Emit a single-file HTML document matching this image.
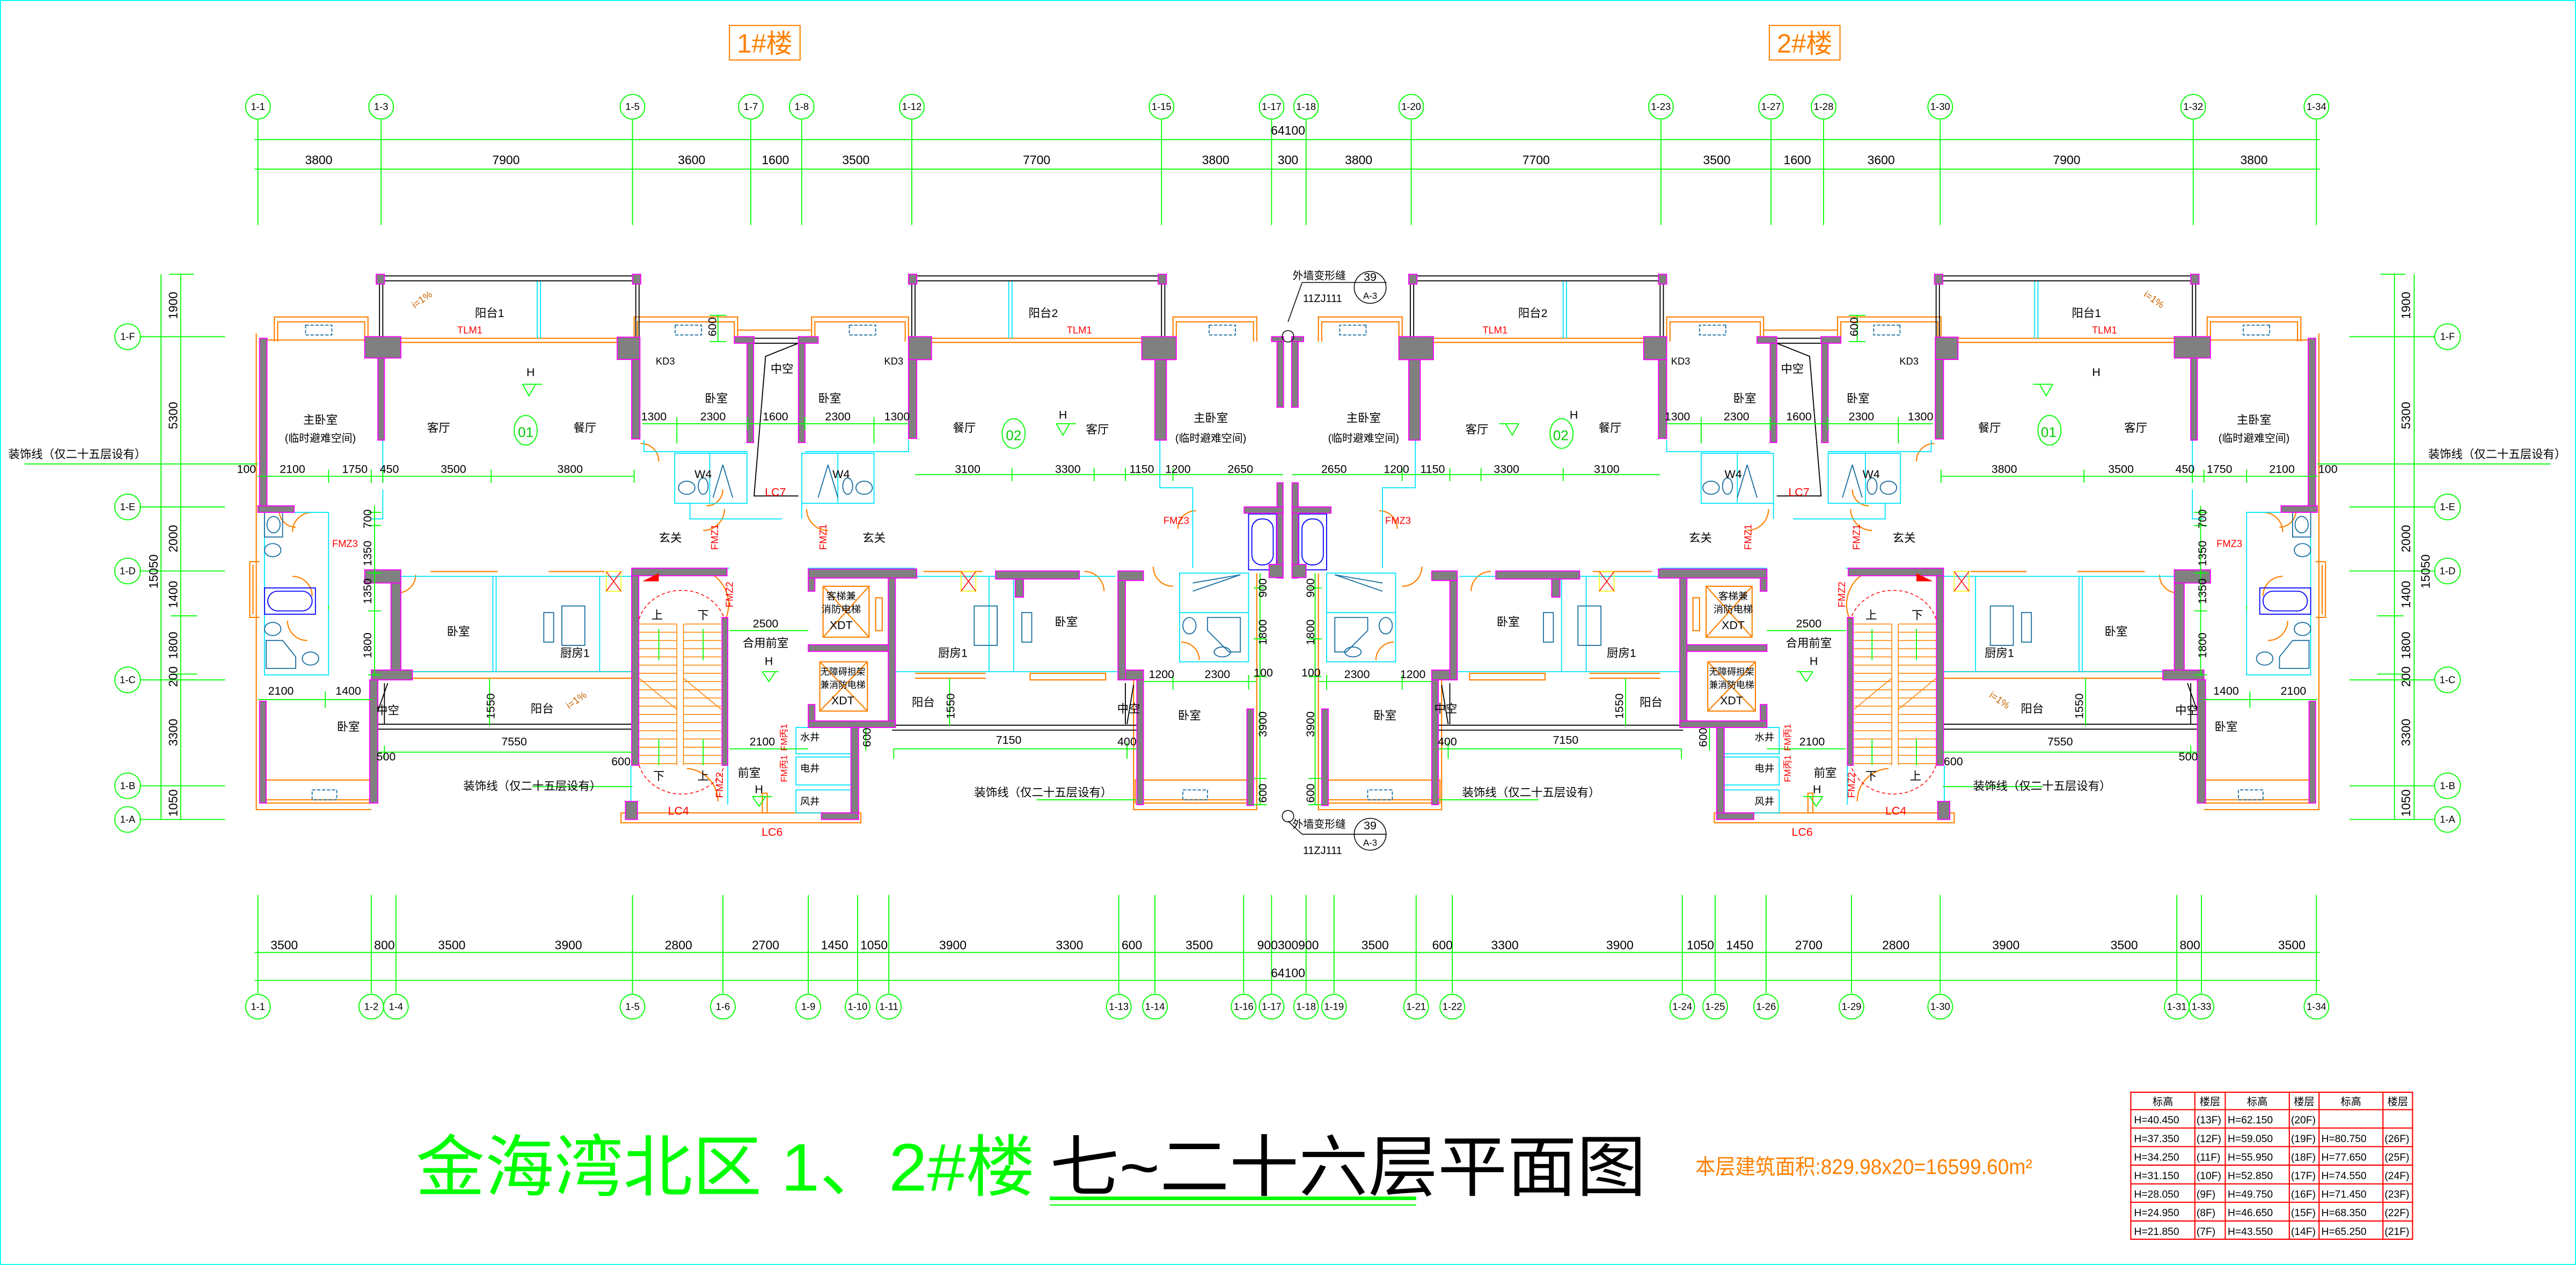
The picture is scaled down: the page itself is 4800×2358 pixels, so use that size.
<!DOCTYPE html>
<html><head><meta charset="utf-8"><style>
html,body{margin:0;padding:0;background:#fff;}
svg{display:block;}
text{font-family:"Liberation Sans","Noto Sans CJK SC",sans-serif;}
</style></head><body>
<svg xmlns="http://www.w3.org/2000/svg" xmlns:xlink="http://www.w3.org/1999/xlink" width="4800" height="2358" viewBox="0 0 1568 770.3" preserveAspectRatio="none">
<rect x="0" y="0" width="1568" height="770.3" fill="#fff"/>
<rect x="0.3" y="0.3" width="1567.4" height="769.7" fill="none" stroke="#00ffff" stroke-width="0.6"/>

<defs>
<g id="half">
 <!-- orange outlines -->
 <g fill="none" stroke="#ff8000" stroke-width="0.7">
  <path d="M156,203 V493 H226"/>
  <path d="M152,342 H158 M152,342 V376 H158 M154,344 V374"/>
  <rect x="161" y="475" width="65" height="14"/><line x1="161" y1="487" x2="226" y2="487"/>
  <rect x="691" y="475" width="69" height="14"/><line x1="691" y1="487" x2="760" y2="487"/>
  <path d="M690,414 V493 H765 V349"/>
  <path d="M167,208 V193 H224 V208 M169,208 V196 H222 V208"/>
  <path d="M386,208 V193 H449 V208 M388,208 V196 H447 V208"/>
  <path d="M494,208 V193 H553 V208 M496,208 V196 H551 V208"/>
  <path d="M714,208 V193 H765 V208 M716,208 V196 H763 V208"/>
  <path d="M449,201 H494"/>
  <line x1="234" y1="206" x2="385" y2="206"/><line x1="234" y1="208.5" x2="385" y2="208.5"/>
  <line x1="558" y1="206" x2="702" y2="206"/><line x1="558" y1="208.5" x2="702" y2="208.5"/>
  <line x1="162" y1="207" x2="222" y2="207"/>
  <rect x="378" y="495" width="146" height="6"/>
  <line x1="251" y1="409" x2="385" y2="409"/><line x1="251" y1="413" x2="385" y2="413"/>
  <line x1="557" y1="410" x2="600" y2="410"/><line x1="557" y1="413" x2="600" y2="413"/>
  <rect x="627" y="410" width="46" height="4"/>
  <line x1="262" y1="348" x2="303" y2="348"/><line x1="334" y1="348" x2="368" y2="348"/>
  <line x1="562" y1="348" x2="598" y2="348"/>
  <!-- stairs treads -->
  <g stroke-width="0.5">
   <path d="M389,380 H412 M389,385 H412 M389,390 H412 M389,395 H412 M389,400 H412 M389,405 H412 M389,410 H412 M389,415 H412 M389,420 H412 M389,425 H412 M389,430 H412 M389,435 H412 M389,440 H412 M389,445 H412 M389,450 H412 M389,455 H412 M389,460 H412 M389,465 H412"/>
   <path d="M416,380 H439 M416,385 H439 M416,390 H439 M416,395 H439 M416,400 H439 M416,405 H439 M416,410 H439 M416,415 H439 M416,420 H439 M416,425 H439 M416,430 H439 M416,435 H439 M416,440 H439 M416,445 H439 M416,450 H439 M416,455 H439 M416,460 H439 M416,465 H439"/>
   <path d="M412,380 V466 M416,380 V466 M389,413 L412,432 M416,413 L439,432"/>
  </g>
  <rect x="501" y="357" width="28" height="31"/><path d="M501,357 L529,388 M529,357 L501,388"/>
  <rect x="499" y="403" width="29" height="30"/><path d="M499,403 L528,433 M528,403 L499,433"/>
  <rect x="533" y="364" width="4" height="20"/>
  <rect x="464" y="483" width="3" height="12"/>
  <!-- door arcs -->
  <path d="M170,311 A10,10 0 0 0 180,321"/>
  <path d="M190,312 A12,12 0 0 0 178,324"/>
  <path d="M178,351 A12,12 0 0 1 190,363"/>
  <path d="M175,378 A12,12 0 0 0 187,390"/>
  <path d="M253,350 A11,11 0 0 1 242,361"/>
  <path d="M390,270 A11,11 0 0 1 401,281"/>
  <path d="M440,298 A10,10 0 0 1 430,308"/>
  <path d="M441,310 A13,13 0 0 1 428,323"/>
  <path d="M491,310 A13,13 0 0 0 504,323"/>
  <path d="M660,348 A12,12 0 0 1 672,360"/>
  <path d="M702,345 A12,12 0 0 0 714,357"/>
  <path d="M719,391 A11,11 0 0 1 730,402"/>
  <path d="M728,311 A11,11 0 0 0 717,322"/>
  <path d="M434,350 A22,22 0 0 1 442,376"/>
  <path d="M437,488 A20,20 0 0 0 418,468"/>
 </g>
 <!-- cyan thin -->
 <g fill="none" stroke="#00e5ff" stroke-width="0.6">
  <line x1="327" y1="171" x2="327" y2="206"/><line x1="329" y1="171" x2="329" y2="206"/>
  <line x1="614" y1="171" x2="614" y2="206"/><line x1="616" y1="171" x2="616" y2="206"/>
  <rect x="161" y="312" width="39" height="99"/>
  <rect x="410.7" y="276" width="44" height="30.5"/><line x1="432" y1="276" x2="432" y2="306"/>
  <rect x="488" y="276" width="44" height="30.5"/><line x1="510" y1="276" x2="510" y2="306"/>
  <path d="M392,268 V275 H455 M490,275 H553 V268"/>
  <path d="M420,306 V316 H476 M488,306 V316"/>
  <path d="M385,351 V346 H444 M492,346 H557"/>
  <path d="M233,268 V294 M233,298 V316 H226"/>
  <path d="M706,268 V297 H726 V346"/>
  <rect x="718" y="349" width="42" height="54"/><line x1="718" y1="373" x2="760" y2="373"/>
  <path d="M244,351 H385 M557,351 H679"/>
  <path d="M251,409 H385 M545,409 H680"/>
  <line x1="300" y1="351" x2="300" y2="409"/><line x1="302" y1="351" x2="302" y2="409"/>
  <line x1="365" y1="351" x2="365" y2="409"/>
  <line x1="602" y1="351" x2="602" y2="409"/><line x1="617" y1="351" x2="617" y2="409"/>
  <rect x="484.5" y="443" width="33.5" height="16"/><rect x="484.5" y="461" width="33.5" height="17"/><rect x="484.5" y="481" width="33.5" height="14"/>
  <line x1="384" y1="466" x2="384" y2="490"/><line x1="443" y1="466" x2="443" y2="490"/>
  <rect x="342" y="369" width="14" height="24" stroke="#1a6fa0"/>
  <rect x="593" y="369" width="14" height="24" stroke="#1a6fa0"/>
  <rect x="331" y="373" width="6" height="18" stroke="#1a6fa0"/>
  <rect x="622" y="373" width="6" height="18" stroke="#1a6fa0"/>
 </g>
 <!-- blue fixtures -->
 <g fill="none" stroke="#1a6fa0" stroke-width="0.6">
  <rect x="161" y="312" width="11" height="15"/><ellipse cx="166.5" cy="319.5" rx="4" ry="5"/>
  <ellipse cx="166" cy="335" rx="5" ry="4"/><ellipse cx="166" cy="383" rx="5" ry="4"/>
  <path d="M162,390 H172 L180,400 V407 H162 Z"/><ellipse cx="189" cy="401" rx="5" ry="4"/>
  <ellipse cx="418" cy="297" rx="5" ry="4"/><ellipse cx="428" cy="296" rx="3" ry="5"/>
  <path d="M440,283 L434,303 M440,283 L446,303"/>
  <ellipse cx="526" cy="297" rx="5" ry="4"/><ellipse cx="516" cy="296" rx="3" ry="5"/>
  <path d="M504,283 L498,303 M504,283 L510,303"/>
  <path d="M726,355 L755,350 M726,360 L755,350"/><ellipse cx="724" cy="381" rx="4" ry="5"/>
  <path d="M735,376 H755 V397 H748 L735,384 Z"/><ellipse cx="744" cy="397" rx="5" ry="3"/>
 </g>
 <g fill="none" stroke="#0000ff" stroke-width="0.6">
  <rect x="161" y="358" width="31" height="16"/><rect x="163" y="360" width="27" height="12" rx="6"/>
  <rect x="760" y="313" width="17" height="34"/><rect x="762" y="316" width="13" height="28" rx="6"/>
 </g>
 <g fill="none" stroke="#1a6fa0" stroke-width="0.6" stroke-dasharray="2,1">
  <rect x="186" y="198" width="16" height="6"/><rect x="411" y="198" width="16" height="6"/>
  <rect x="517" y="198" width="16" height="6"/><rect x="736" y="198" width="16" height="6"/>
  <rect x="190" y="481" width="15" height="6"/><rect x="720" y="481" width="15" height="6"/>
 </g>
 <!-- black lines (balcony rails) -->
 <g fill="none" stroke="#000" stroke-width="0.6">
  <path d="M234,168 H385 M234,171 H385 M231,170 V205 M233,170 V205 M387,170 V205 M389,170 V205"/>
  <path d="M558,168 H705 M558,171 H705 M555,170 V205 M557,170 V205 M707,170 V205 M709,170 V205"/>
  <path d="M230,441 H385 M230,444 H385 M543,441.6 H692 M543,444.6 H692"/>
  <path d="M459,206 H486 M459,209 H486 M486,209 L466,217 L459,302 H486"/>
  <path d="M234,416 V441 M236,416 L230,433 M685,416 V441 M690,417 L686,441"/>
 </g>
 <!-- walls -->
 <g fill="#808080" stroke="#ff00ff" stroke-width="0.6">
  <rect x="158" y="206" width="4.5" height="102"/>
  <rect x="157" y="308" width="22" height="4"/>
  <rect x="158" y="427" width="4" height="62"/>
  <rect x="222" y="205" width="22" height="13"/><rect x="230" y="218" width="4" height="50"/>
  <rect x="229" y="167" width="5" height="6"/><rect x="385" y="167" width="5" height="6"/>
  <rect x="553" y="167" width="5" height="6"/><rect x="705" y="167" width="5" height="6"/>
  <rect x="375.7" y="205.3" width="13.8" height="13.6"/><rect x="384.5" y="218.9" width="5" height="48.4"/>
  <rect x="447" y="205" width="12" height="4"/><rect x="454.7" y="209" width="4" height="60.5"/>
  <rect x="486" y="205" width="12" height="4"/><rect x="486" y="209" width="4" height="60.5"/>
  <rect x="553" y="205" width="14" height="14"/><rect x="553" y="219" width="5" height="48"/>
  <rect x="695" y="205" width="21" height="14"/><rect x="703" y="219" width="7" height="49"/>
  <rect x="777.3" y="206" width="4" height="42"/><rect x="774" y="205" width="7.3" height="3"/>
  <rect x="777.3" y="294" width="3.7" height="58"/><rect x="757.3" y="308.7" width="23.7" height="3.8"/>
  <rect x="772.5" y="343.7" width="8.5" height="8"/>
  <rect x="222" y="347" width="22" height="8"/><rect x="238" y="355" width="6" height="56"/>
  <rect x="226" y="408" width="25" height="6"/><rect x="225" y="414" width="5" height="75"/>
  <rect x="384.5" y="346" width="58" height="4.6"/><rect x="384.5" y="350.6" width="4.3" height="115.4"/>
  <rect x="439.5" y="376" width="3.5" height="90"/>
  <rect x="380.7" y="488" width="7.3" height="11"/>
  <rect x="492" y="346.5" width="66" height="5.5"/><rect x="492" y="352" width="4" height="8"/>
  <rect x="540.7" y="352" width="4.3" height="91"/><rect x="492" y="392.6" width="48.7" height="4.1"/>
  <rect x="492" y="429" width="4" height="10"/><rect x="492" y="439" width="53" height="4"/>
  <rect x="518" y="443" width="4.6" height="56"/><rect x="500" y="495" width="22.6" height="4"/>
  <rect x="606" y="347.7" width="51" height="4.9"/><rect x="618" y="352.6" width="5" height="11"/>
  <rect x="680.5" y="347.7" width="15.5" height="5.8"/><rect x="680.5" y="353.5" width="4.5" height="60.5"/>
  <rect x="685" y="408" width="11" height="6"/><rect x="692" y="414" width="4" height="76"/>
  <rect x="759" y="431.7" width="4" height="58.8"/>
 </g>
 <!-- red stair door mark -->
 <path d="M391,354 L401,349 V354 Z" fill="#f00"/>
 <g fill="none" stroke="#f00" stroke-width="0.5" stroke-dasharray="2,1.5">
  <path d="M389,377 A27,24 0 0 1 441,377"/><path d="M389,466 A27,24 0 0 0 441,466"/>
 </g>
 <g stroke="#f00" stroke-width="0.5" fill="none">
  <rect x="369" y="348" width="9" height="12" stroke="#ff0"/><path d="M369,348 L378,360 M378,348 L369,360"/>
  <rect x="585" y="348" width="9" height="12" stroke="#ff0"/><path d="M585,348 L594,360 M594,348 L585,360"/>
 </g>
 <!-- green internal dims -->
 <g stroke="#00ff00" stroke-width="0.6" fill="none">
  <path d="M15,282.5 H157"/>
  <path d="M157,290 H386 M200,286 V294 M226,286 V294 M233,286 V294 M299,286 V294 M386,286 V294"/>
  <path d="M557,289 H781 M616,285 V293 M666,285 V293 M685,285 V293 M714,285 V293"/>
  <path d="M391,258 H553 M412,254 V270 M455,254 V262 M490,254 V262 M532,254 V270"/>
  <path d="M444,384 H492 M444,456 H492"/>
  <path d="M157,426 H226 M198,421 V431"/>
  <path d="M230,458 H385 M234,454 V462"/>
  <path d="M544,456 H692 M686,452 V462"/>
  <path d="M696,415 H765 M714,411 V420 M760,411 V420"/>
  <path d="M228,308 V411 M224,312 H232 M224,320 H232 M224,349 H232 M224,372 H232 M224,411 H232"/>
  <path d="M298,413 V442"/><path d="M578,413 V442"/>
  <path d="M767,349 V490 M763,358 H771 M763,389 H771 M763,412 H771 M763,474 H771 M763,490 H771"/>
  <path d="M437,192 V208 M432,192 H442 M432,208 H442"/>
  <path d="M388,491 H388 M200,369 V371"/>
  <path d="M401,383 V402 M428,383 V402 M401,450 V466 M428,450 V466"/>
  <path d="M324,479 H385 M631,487 H692"/>
  <path d="M527,443 V457 M544,456 V462"/>
  <path d="M318,234 H330 M318,234 L322,241 L326,234"/>
  <path d="M464,409 H474 M464,409 L468,415 L472,409"/>
  <path d="M458,485 H470 M458,485 L462,491 L466,485"/>
  <path d="M643,258 H655 M643,258 L647,265 L651,258"/>
 </g>
 <ellipse cx="320" cy="262" rx="7" ry="9" fill="none" stroke="#00ff00" stroke-width="0.6"/>
 <ellipse cx="617" cy="264" rx="7" ry="9" fill="none" stroke="#00ff00" stroke-width="0.6"/>
</g>
</defs>

<use xlink:href="#half"/>
<use xlink:href="#half" transform="translate(1567.5,0) scale(-1,1)"/>

<!-- center joint -->
<g stroke="#000" stroke-width="0.5" fill="none">
 <path d="M792.6,172 H844 M792.6,172 L784,196"/>
 <circle cx="834" cy="175" r="9.7"/>
 <circle cx="784" cy="204.8" r="3.5"/>
 <path d="M792.6,508 H844 M792.6,508 L784,500"/>
 <circle cx="834" cy="508" r="9.7"/>
 <circle cx="784" cy="497" r="3.5"/>
</g>
<g font-size="6.5" fill="#000" text-anchor="middle">
 <text x="803" y="170">外墙变形缝</text><text x="805" y="184" font-family="Liberation Serif">11ZJ111</text>
 <text x="834" y="171" font-size="7">39</text><text x="834" y="182" font-size="5.5">A-3</text>
 <text x="803" y="504">外墙变形缝</text><text x="805" y="520" font-family="Liberation Serif">11ZJ111</text>
 <text x="834" y="505" font-size="7">39</text><text x="834" y="515" font-size="5.5">A-3</text>
</g>

<!-- header boxes -->
<rect x="444" y="15.5" width="43" height="21" fill="none" stroke="#ff8000" stroke-width="0.7"/>
<text x="465.5" y="32" font-size="16" fill="#ff8000" text-anchor="middle">1#楼</text>
<rect x="1077" y="15.5" width="43" height="21" fill="none" stroke="#ff8000" stroke-width="0.7"/>
<text x="1098.5" y="32" font-size="16" fill="#ff8000" text-anchor="middle">2#楼</text>

<!-- top axes -->
<g stroke="#00ff00" stroke-width="0.6" fill="none">
 <path d="M155,85 H1412 M155,103 H1412"/>
 <path d="M157,73 V137 M232,73 V137 M385,73 V137 M457,73 V137 M488,73 V137 M555,73 V137 M707,73 V137 M774,73 V137 M795,73 V137 M859,73 V137 M1011,73 V137 M1078,73 V137 M1110,73 V137 M1181,73 V137 M1335,73 V137 M1410,73 V137"/>
 <g>
 <circle cx="157" cy="65" r="7.5"/><circle cx="232" cy="65" r="7.5"/><circle cx="385" cy="65" r="7.5"/><circle cx="457" cy="65" r="7.5"/><circle cx="488" cy="65" r="7.5"/><circle cx="555" cy="65" r="7.5"/><circle cx="707" cy="65" r="7.5"/><circle cx="774" cy="65" r="7.5"/><circle cx="795" cy="65" r="7.5"/><circle cx="859" cy="65" r="7.5"/><circle cx="1011" cy="65" r="7.5"/><circle cx="1078" cy="65" r="7.5"/><circle cx="1110" cy="65" r="7.5"/><circle cx="1181" cy="65" r="7.5"/><circle cx="1335" cy="65" r="7.5"/><circle cx="1410" cy="65" r="7.5"/>
 </g>
</g>
<g font-size="6" fill="#000" text-anchor="middle">
 <text x="157" y="67">1-1</text><text x="232" y="67">1-3</text><text x="385" y="67">1-5</text><text x="457" y="67">1-7</text><text x="488" y="67">1-8</text><text x="555" y="67">1-12</text><text x="707" y="67">1-15</text><text x="774" y="67">1-17</text><text x="795" y="67">1-18</text><text x="859" y="67">1-20</text><text x="1011" y="67">1-23</text><text x="1078" y="67">1-27</text><text x="1110" y="67">1-28</text><text x="1181" y="67">1-30</text><text x="1335" y="67">1-32</text><text x="1410" y="67">1-34</text>
</g>
<g font-size="7.5" fill="#000" text-anchor="middle">
 <text x="784" y="82">64100</text>
 <text x="194" y="100">3800</text><text x="308" y="100">7900</text><text x="421" y="100">3600</text><text x="472" y="100">1600</text><text x="521" y="100">3500</text><text x="631" y="100">7700</text><text x="740" y="100">3800</text><text x="784" y="100">300</text><text x="827" y="100">3800</text><text x="935" y="100">7700</text><text x="1045" y="100">3500</text><text x="1094" y="100">1600</text><text x="1145" y="100">3600</text><text x="1258" y="100">7900</text><text x="1372" y="100">3800</text>
</g>

<!-- bottom axes -->
<g stroke="#00ff00" stroke-width="0.6" fill="none">
 <path d="M155,580 H1412 M155,597 H1412"/>
 <path d="M157,545 V605 M226,545 V605 M241,545 V605 M385,545 V605 M440,545 V605 M492,545 V605 M522,545 V605 M541,545 V605 M681,545 V605 M703,545 V605 M757,545 V605 M774,545 V605 M795,545 V605 M812,545 V605 M862,545 V605 M884,545 V605 M1024,545 V605 M1044,545 V605 M1075,545 V605 M1127,545 V605 M1181,545 V605 M1325,545 V605 M1340,545 V605 M1410,545 V605"/>
 <circle cx="157" cy="613" r="7.5"/><circle cx="226" cy="613" r="7.5"/><circle cx="241" cy="613" r="7.5"/><circle cx="385" cy="613" r="7.5"/><circle cx="440" cy="613" r="7.5"/><circle cx="492" cy="613" r="7.5"/><circle cx="522" cy="613" r="7.5"/><circle cx="541" cy="613" r="7.5"/><circle cx="681" cy="613" r="7.5"/><circle cx="703" cy="613" r="7.5"/><circle cx="757" cy="613" r="7.5"/><circle cx="774" cy="613" r="7.5"/><circle cx="795" cy="613" r="7.5"/><circle cx="812" cy="613" r="7.5"/><circle cx="862" cy="613" r="7.5"/><circle cx="884" cy="613" r="7.5"/><circle cx="1024" cy="613" r="7.5"/><circle cx="1044" cy="613" r="7.5"/><circle cx="1075" cy="613" r="7.5"/><circle cx="1127" cy="613" r="7.5"/><circle cx="1181" cy="613" r="7.5"/><circle cx="1325" cy="613" r="7.5"/><circle cx="1340" cy="613" r="7.5"/><circle cx="1410" cy="613" r="7.5"/>
</g>
<g font-size="6" fill="#000" text-anchor="middle">
 <text x="157" y="615">1-1</text><text x="226" y="615">1-2</text><text x="241" y="615">1-4</text><text x="385" y="615">1-5</text><text x="440" y="615">1-6</text><text x="492" y="615">1-9</text><text x="522" y="615">1-10</text><text x="541" y="615">1-11</text><text x="681" y="615">1-13</text><text x="703" y="615">1-14</text><text x="757" y="615">1-16</text><text x="774" y="615">1-17</text><text x="795" y="615">1-18</text><text x="812" y="615">1-19</text><text x="862" y="615">1-21</text><text x="884" y="615">1-22</text><text x="1024" y="615">1-24</text><text x="1044" y="615">1-25</text><text x="1075" y="615">1-26</text><text x="1127" y="615">1-29</text><text x="1181" y="615">1-30</text><text x="1325" y="615">1-31</text><text x="1340" y="615">1-33</text><text x="1410" y="615">1-34</text>
</g>
<g font-size="7.5" fill="#000" text-anchor="middle">
 <text x="784" y="595">64100</text>
 <text x="173" y="578">3500</text><text x="234" y="578">800</text><text x="275" y="578">3500</text><text x="346" y="578">3900</text><text x="413" y="578">2800</text><text x="466" y="578">2700</text><text x="508" y="578">1450</text><text x="532" y="578">1050</text><text x="580" y="578">3900</text><text x="651" y="578">3300</text><text x="689" y="578">600</text><text x="730" y="578">3500</text><text x="784" y="578">900300900</text><text x="837" y="578">3500</text><text x="878" y="578">600</text><text x="916" y="578">3300</text><text x="986" y="578">3900</text><text x="1035" y="578">1050</text><text x="1059" y="578">1450</text><text x="1101" y="578">2700</text><text x="1154" y="578">2800</text><text x="1221" y="578">3900</text><text x="1293" y="578">3500</text><text x="1333" y="578">800</text><text x="1395" y="578">3500</text>
</g>

<!-- left side axes -->
<g stroke="#00ff00" stroke-width="0.6" fill="none">
 <path d="M98,167 V499 M110,167 V499"/>
 <path d="M103,167 H118 M85,205 H137 M85,308.7 H137 M85,347.7 H137 M104,375 H120 M104,410.5 H120 M85,414 H137 M85,478.5 H137 M85,499 H137"/>
 <circle cx="77.7" cy="205" r="7.8"/><circle cx="77.7" cy="308.7" r="7.8"/><circle cx="77.7" cy="347.7" r="7.8"/><circle cx="77.7" cy="414" r="7.8"/><circle cx="77.7" cy="478.5" r="7.8"/><circle cx="77.7" cy="499" r="7.8"/>
 <path d="M1469.5,167 V499 M1457.5,167 V499"/>
 <path d="M1449,167 H1464 M1430,205 H1482 M1430,308.7 H1482 M1430,347.7 H1482 M1447,375 H1463 M1447,410.5 H1463 M1430,414 H1482 M1430,478.5 H1482 M1430,499 H1482"/>
 <circle cx="1489.8" cy="205" r="7.8"/><circle cx="1489.8" cy="308.7" r="7.8"/><circle cx="1489.8" cy="347.7" r="7.8"/><circle cx="1489.8" cy="414" r="7.8"/><circle cx="1489.8" cy="478.5" r="7.8"/><circle cx="1489.8" cy="499" r="7.8"/>
</g>
<g font-size="6" fill="#000" text-anchor="middle">
 <text x="77.7" y="207">1-F</text><text x="77.7" y="310.7">1-E</text><text x="77.7" y="349.7">1-D</text><text x="77.7" y="416">1-C</text><text x="77.7" y="480.5">1-B</text><text x="77.7" y="501">1-A</text>
 <text x="1489.8" y="207">1-F</text><text x="1489.8" y="310.7">1-E</text><text x="1489.8" y="349.7">1-D</text><text x="1489.8" y="416">1-C</text><text x="1489.8" y="480.5">1-B</text><text x="1489.8" y="501">1-A</text>
</g>
<g font-size="7.5" fill="#000" text-anchor="middle">
 <text transform="translate(108,186) rotate(-90)">1900</text>
 <text transform="translate(108,253) rotate(-90)">5300</text>
 <text transform="translate(108,328) rotate(-90)">2000</text>
 <text transform="translate(108,362) rotate(-90)">1400</text>
 <text transform="translate(108,393) rotate(-90)">1800</text>
 <text transform="translate(108,412) rotate(-90)">200</text>
 <text transform="translate(108,446) rotate(-90)">3300</text>
 <text transform="translate(108,489) rotate(-90)">1050</text>
 <text transform="translate(96,348) rotate(-90)">15050</text>
 <text transform="translate(1467,186) rotate(-90)">1900</text>
 <text transform="translate(1467,253) rotate(-90)">5300</text>
 <text transform="translate(1467,328) rotate(-90)">2000</text>
 <text transform="translate(1467,362) rotate(-90)">1400</text>
 <text transform="translate(1467,393) rotate(-90)">1800</text>
 <text transform="translate(1467,412) rotate(-90)">200</text>
 <text transform="translate(1467,446) rotate(-90)">3300</text>
 <text transform="translate(1467,489) rotate(-90)">1050</text>
 <text transform="translate(1479,348) rotate(-90)">15050</text>
</g>

<!-- room labels left half -->
<g font-size="7" fill="#000" text-anchor="middle">
 <text x="47" y="279">装饰线（仅二十五层设有）</text><text x="1520" y="279">装饰线（仅二十五层设有）</text>
 <text x="298" y="193">阳台1</text><text x="635" y="193">阳台2</text>
 <text x="195" y="258">主卧室</text><text x="195" y="269" font-size="6.5">(临时避难空间)</text>
 <text x="267" y="263">客厅</text><text x="356" y="263">餐厅</text>
 <text x="436" y="245">卧室</text><text x="476" y="227">中空</text><text x="505" y="245">卧室</text>
 <text x="587" y="263">餐厅</text><text x="668" y="264">客厅</text>
 <text x="737" y="257">主卧室</text><text x="737" y="269" font-size="6.5">(临时避难空间)</text>
 <text x="408" y="330">玄关</text><text x="532" y="330">玄关</text>
 <text x="279" y="387">卧室</text><text x="350" y="400">厨房1</text><text x="580" y="400">厨房1</text><text x="649" y="381">卧室</text>
 <text x="400" y="377">上</text><text x="428" y="377">下</text><text x="401" y="475">下</text><text x="428" y="475">上</text>
 <text x="466" y="394">合用前室</text><text x="456" y="473">前室</text>
 <text x="512" y="365" font-size="6">客梯兼</text><text x="512" y="373" font-size="6">消防电梯</text><text x="512" y="383">XDT</text>
 <text x="513" y="411" font-size="5.5">无障碍担架</text><text x="513" y="419" font-size="5.5">兼消防电梯</text><text x="513" y="429">XDT</text>
 <text x="330" y="434">阳台</text><text x="562" y="430">阳台</text>
 <text x="236" y="435">中空</text><text x="212" y="445">卧室</text><text x="687" y="434">中空</text><text x="724" y="438">卧室</text>
 <text x="324" y="481">装饰线（仅二十五层设有）</text><text x="635" y="485">装饰线（仅二十五层设有）</text>
 <text x="493" y="451" font-size="6">水井</text><text x="493" y="470" font-size="6">电井</text><text x="493" y="490" font-size="6">风井</text>
 <text x="323" y="229">H</text><text x="647" y="255">H</text><text x="468" y="405">H</text><text x="462" y="483">H</text>
 <text x="405" y="222" font-size="6">KD3</text><text x="544" y="222" font-size="6">KD3</text>
 <text x="428" y="291">W4</text><text x="512" y="291">W4</text>
 <text x="320" y="266" fill="#00cc00" font-size="8.5">01</text><text x="617" y="268" fill="#00cc00" font-size="8.5">02</text>
</g>
<!-- room labels right half (mirrored positions) -->
<g font-size="7" fill="#000" text-anchor="middle">
 <text x="1270" y="193">阳台1</text><text x="933" y="193">阳台2</text>
 <text x="1372" y="258">主卧室</text><text x="1372" y="269" font-size="6.5">(临时避难空间)</text>
 <text x="1300" y="263">客厅</text><text x="1211" y="263">餐厅</text>
 <text x="1131" y="245">卧室</text><text x="1091" y="227">中空</text><text x="1062" y="245">卧室</text>
 <text x="980" y="263">餐厅</text><text x="899" y="264">客厅</text>
 <text x="830" y="257">主卧室</text><text x="830" y="269" font-size="6.5">(临时避难空间)</text>
 <text x="1159" y="330">玄关</text><text x="1035" y="330">玄关</text>
 <text x="1288" y="387">卧室</text><text x="1217" y="400">厨房1</text><text x="987" y="400">厨房1</text><text x="918" y="381">卧室</text>
 <text x="1139" y="377">上</text><text x="1167" y="377">下</text><text x="1139" y="475">下</text><text x="1166" y="475">上</text>
 <text x="1101" y="394">合用前室</text><text x="1111" y="473">前室</text>
 <text x="1055" y="365" font-size="6">客梯兼</text><text x="1055" y="373" font-size="6">消防电梯</text><text x="1055" y="383">XDT</text>
 <text x="1054" y="411" font-size="5.5">无障碍担架</text><text x="1054" y="419" font-size="5.5">兼消防电梯</text><text x="1054" y="429">XDT</text>
 <text x="1237" y="434">阳台</text><text x="1005" y="430">阳台</text>
 <text x="1331" y="435">中空</text><text x="1355" y="445">卧室</text><text x="880" y="434">中空</text><text x="843" y="438">卧室</text>
 <text x="1243" y="481">装饰线（仅二十五层设有）</text><text x="932" y="485">装饰线（仅二十五层设有）</text>
 <text x="1074" y="451" font-size="6">水井</text><text x="1074" y="470" font-size="6">电井</text><text x="1074" y="490" font-size="6">风井</text>
 <text x="1276" y="229">H</text><text x="958" y="255">H</text><text x="1104" y="405">H</text><text x="1106" y="483">H</text>
 <text x="1162" y="222" font-size="6">KD3</text><text x="1023" y="222" font-size="6">KD3</text>
 <text x="1139" y="291">W4</text><text x="1055" y="291">W4</text>
 <text x="1247" y="266" fill="#00cc00" font-size="8.5">01</text><text x="950" y="268" fill="#00cc00" font-size="8.5">02</text>
</g>
<!-- red labels -->
<g font-size="6" fill="#f00" text-anchor="middle">
 <text x="286" y="203">TLM1</text><text x="657" y="203">TLM1</text><text x="1281" y="203">TLM1</text><text x="910" y="203">TLM1</text>
 <text x="472" y="302" font-size="7">LC7</text><text x="1095" y="302" font-size="7">LC7</text>
 <text x="413" y="496" font-size="7">LC4</text><text x="1154" y="496" font-size="7">LC4</text>
 <text x="470" y="509" font-size="7">LC6</text><text x="1097" y="509" font-size="7">LC6</text>
 <text x="210" y="333">FMZ3</text><text x="716" y="319">FMZ3</text><text x="1357" y="333">FMZ3</text><text x="851" y="319">FMZ3</text>
 <text transform="translate(437,327) rotate(-90)">FMZ1</text><text transform="translate(503,327) rotate(-90)">FMZ1</text>
 <text transform="translate(1132,327) rotate(-90)">FMZ1</text><text transform="translate(1066,327) rotate(-90)">FMZ1</text>
 <text transform="translate(446,362) rotate(-90)">FMZ2</text><text transform="translate(1123,362) rotate(-90)">FMZ2</text>
 <text transform="translate(440,478) rotate(-90)">FMZ2</text><text transform="translate(1129,478) rotate(-90)">FMZ2</text>
 <text transform="translate(479,449) rotate(-90)" font-size="5.5">FM丙1</text><text transform="translate(479,468) rotate(-90)" font-size="5.5">FM丙1</text>
 <text transform="translate(1090,449) rotate(-90)" font-size="5.5">FM丙1</text><text transform="translate(1090,468) rotate(-90)" font-size="5.5">FM丙1</text>
</g>
<g font-size="6" fill="#c86400" text-anchor="middle">
 <text transform="translate(258,184) rotate(-35)">i=1%</text><text transform="translate(1310,184) rotate(35)">i=1%</text>
 <text transform="translate(352,428) rotate(-35)">i=1%</text><text transform="translate(1216,428) rotate(35)">i=1%</text>
</g>
<!-- dims text inside -->
<g font-size="7" fill="#000" text-anchor="middle">
 <text x="150" y="288">100</text><text x="178" y="288">2100</text><text x="216" y="288">1750</text><text x="237" y="288">450</text><text x="276" y="288">3500</text><text x="347" y="288">3800</text>
 <text x="589" y="288">3100</text><text x="650" y="288">3300</text><text x="695" y="288">1150</text><text x="717" y="288">1200</text><text x="755" y="288">2650</text>
 <text x="1417" y="288">100</text><text x="1389" y="288">2100</text><text x="1351" y="288">1750</text><text x="1330" y="288">450</text><text x="1291" y="288">3500</text><text x="1220" y="288">3800</text>
 <text x="978" y="288">3100</text><text x="917" y="288">3300</text><text x="872" y="288">1150</text><text x="850" y="288">1200</text><text x="812" y="288">2650</text>
 <text x="398" y="256">1300</text><text x="434" y="256">2300</text><text x="472" y="256">1600</text><text x="510" y="256">2300</text><text x="546" y="256">1300</text>
 <text x="1169" y="256">1300</text><text x="1133" y="256">2300</text><text x="1095" y="256">1600</text><text x="1057" y="256">2300</text><text x="1021" y="256">1300</text>
 <text x="466" y="382">2500</text><text x="1101" y="382">2500</text>
 <text x="464" y="454">2100</text><text x="1103" y="454">2100</text>
 <text x="171" y="423">2100</text><text x="212" y="423">1400</text><text x="1396" y="423">2100</text><text x="1355" y="423">1400</text>
 <text x="313" y="454">7550</text><text x="235" y="463">500</text><text x="378" y="466">600</text>
 <text x="1254" y="454">7550</text><text x="1332" y="463">500</text><text x="1189" y="466">600</text>
 <text x="614" y="453">7150</text><text x="686" y="454">400</text><text x="953" y="453">7150</text><text x="881" y="454">400</text>
 <text x="707" y="413">1200</text><text x="741" y="413">2300</text><text x="860" y="413">1200</text><text x="826" y="413">2300</text>
 <text x="769" y="412">100</text><text x="798" y="412">100</text>
 <text transform="translate(771,358) rotate(-90)">900</text><text transform="translate(771,385) rotate(-90)">1800</text>
 <text transform="translate(771,441) rotate(-90)">3900</text><text transform="translate(771,483) rotate(-90)">600</text>
 <text transform="translate(800,358) rotate(-90)">900</text><text transform="translate(800,385) rotate(-90)">1800</text>
 <text transform="translate(800,441) rotate(-90)">3900</text><text transform="translate(800,483) rotate(-90)">600</text>
 <text transform="translate(226,316) rotate(-90)">700</text><text transform="translate(226,337) rotate(-90)">1350</text><text transform="translate(226,360) rotate(-90)">1350</text><text transform="translate(226,393) rotate(-90)">1800</text>
 <text transform="translate(1343,316) rotate(-90)">700</text><text transform="translate(1343,337) rotate(-90)">1350</text><text transform="translate(1343,360) rotate(-90)">1350</text><text transform="translate(1343,393) rotate(-90)">1800</text>
 <text transform="translate(301,430) rotate(-90)">1550</text><text transform="translate(581,430) rotate(-90)">1550</text>
 <text transform="translate(1268,430) rotate(-90)">1550</text><text transform="translate(988,430) rotate(-90)">1550</text>
 <text transform="translate(436,199) rotate(-90)">600</text><text transform="translate(1131,199) rotate(-90)">600</text>
 <text transform="translate(530,449) rotate(-90)">600</text><text transform="translate(1039,449) rotate(-90)">600</text>
</g>

<!-- title -->
<text x="253" y="725" font-size="41" fill="#00ff00" textLength="377" lengthAdjust="spacingAndGlyphs">金海湾北区 1、2#楼</text>
<text x="639" y="725" font-size="41" fill="#000" textLength="363" lengthAdjust="spacingAndGlyphs">七~二十六层平面图</text>
<rect x="639" y="728.6" width="223" height="2.2" fill="#00ff00"/>
<rect x="639" y="733.4" width="223" height="0.7" fill="#00ff00"/>
<text x="1032" y="715" font-size="13" fill="#ff8000" textLength="205" lengthAdjust="spacingAndGlyphs">本层建筑面积:829.98x20=16599.60m²</text>

<!-- table -->
<g stroke="#f00" stroke-width="0.7" fill="none">
 <rect x="1297" y="665.1" width="171.5" height="89.5"/>
 <path d="M1336,665.1 V754.6 M1354.5,665.1 V754.6 M1393.5,665.1 V754.6 M1411.6,665.1 V754.6 M1450.5,665.1 V754.6"/>
 <path d="M1297,675.7 H1468.5 M1297,686.9 H1468.5 M1297,698.2 H1468.5 M1297,709.5 H1468.5 M1297,720.9 H1468.5 M1297,732.1 H1468.5 M1297,743.5 H1468.5"/>
</g>
<g font-size="6.3" fill="#000">
 <g text-anchor="middle">
  <text x="1316.5" y="673">标高</text><text x="1345.2" y="673">楼层</text><text x="1374" y="673">标高</text><text x="1402.5" y="673">楼层</text><text x="1431" y="673">标高</text><text x="1459.5" y="673">楼层</text>
 </g>
 <text x="1299" y="684">H=40.450</text><text x="1337" y="684">(13F)</text><text x="1356" y="684">H=62.150</text><text x="1394.5" y="684">(20F)</text>
 <text x="1299" y="695.5">H=37.350</text><text x="1337" y="695.5">(12F)</text><text x="1356" y="695.5">H=59.050</text><text x="1394.5" y="695.5">(19F)</text><text x="1413" y="695.5">H=80.750</text><text x="1451.5" y="695.5">(26F)</text>
 <text x="1299" y="706.8">H=34.250</text><text x="1337" y="706.8">(11F)</text><text x="1356" y="706.8">H=55.950</text><text x="1394.5" y="706.8">(18F)</text><text x="1413" y="706.8">H=77.650</text><text x="1451.5" y="706.8">(25F)</text>
 <text x="1299" y="718">H=31.150</text><text x="1337" y="718">(10F)</text><text x="1356" y="718">H=52.850</text><text x="1394.5" y="718">(17F)</text><text x="1413" y="718">H=74.550</text><text x="1451.5" y="718">(24F)</text>
 <text x="1299" y="729.3">H=28.050</text><text x="1337" y="729.3">(9F)</text><text x="1356" y="729.3">H=49.750</text><text x="1394.5" y="729.3">(16F)</text><text x="1413" y="729.3">H=71.450</text><text x="1451.5" y="729.3">(23F)</text>
 <text x="1299" y="740.6">H=24.950</text><text x="1337" y="740.6">(8F)</text><text x="1356" y="740.6">H=46.650</text><text x="1394.5" y="740.6">(15F)</text><text x="1413" y="740.6">H=68.350</text><text x="1451.5" y="740.6">(22F)</text>
 <text x="1299" y="752">H=21.850</text><text x="1337" y="752">(7F)</text><text x="1356" y="752">H=43.550</text><text x="1394.5" y="752">(14F)</text><text x="1413" y="752">H=65.250</text><text x="1451.5" y="752">(21F)</text>
</g>
</svg>
</body></html>
